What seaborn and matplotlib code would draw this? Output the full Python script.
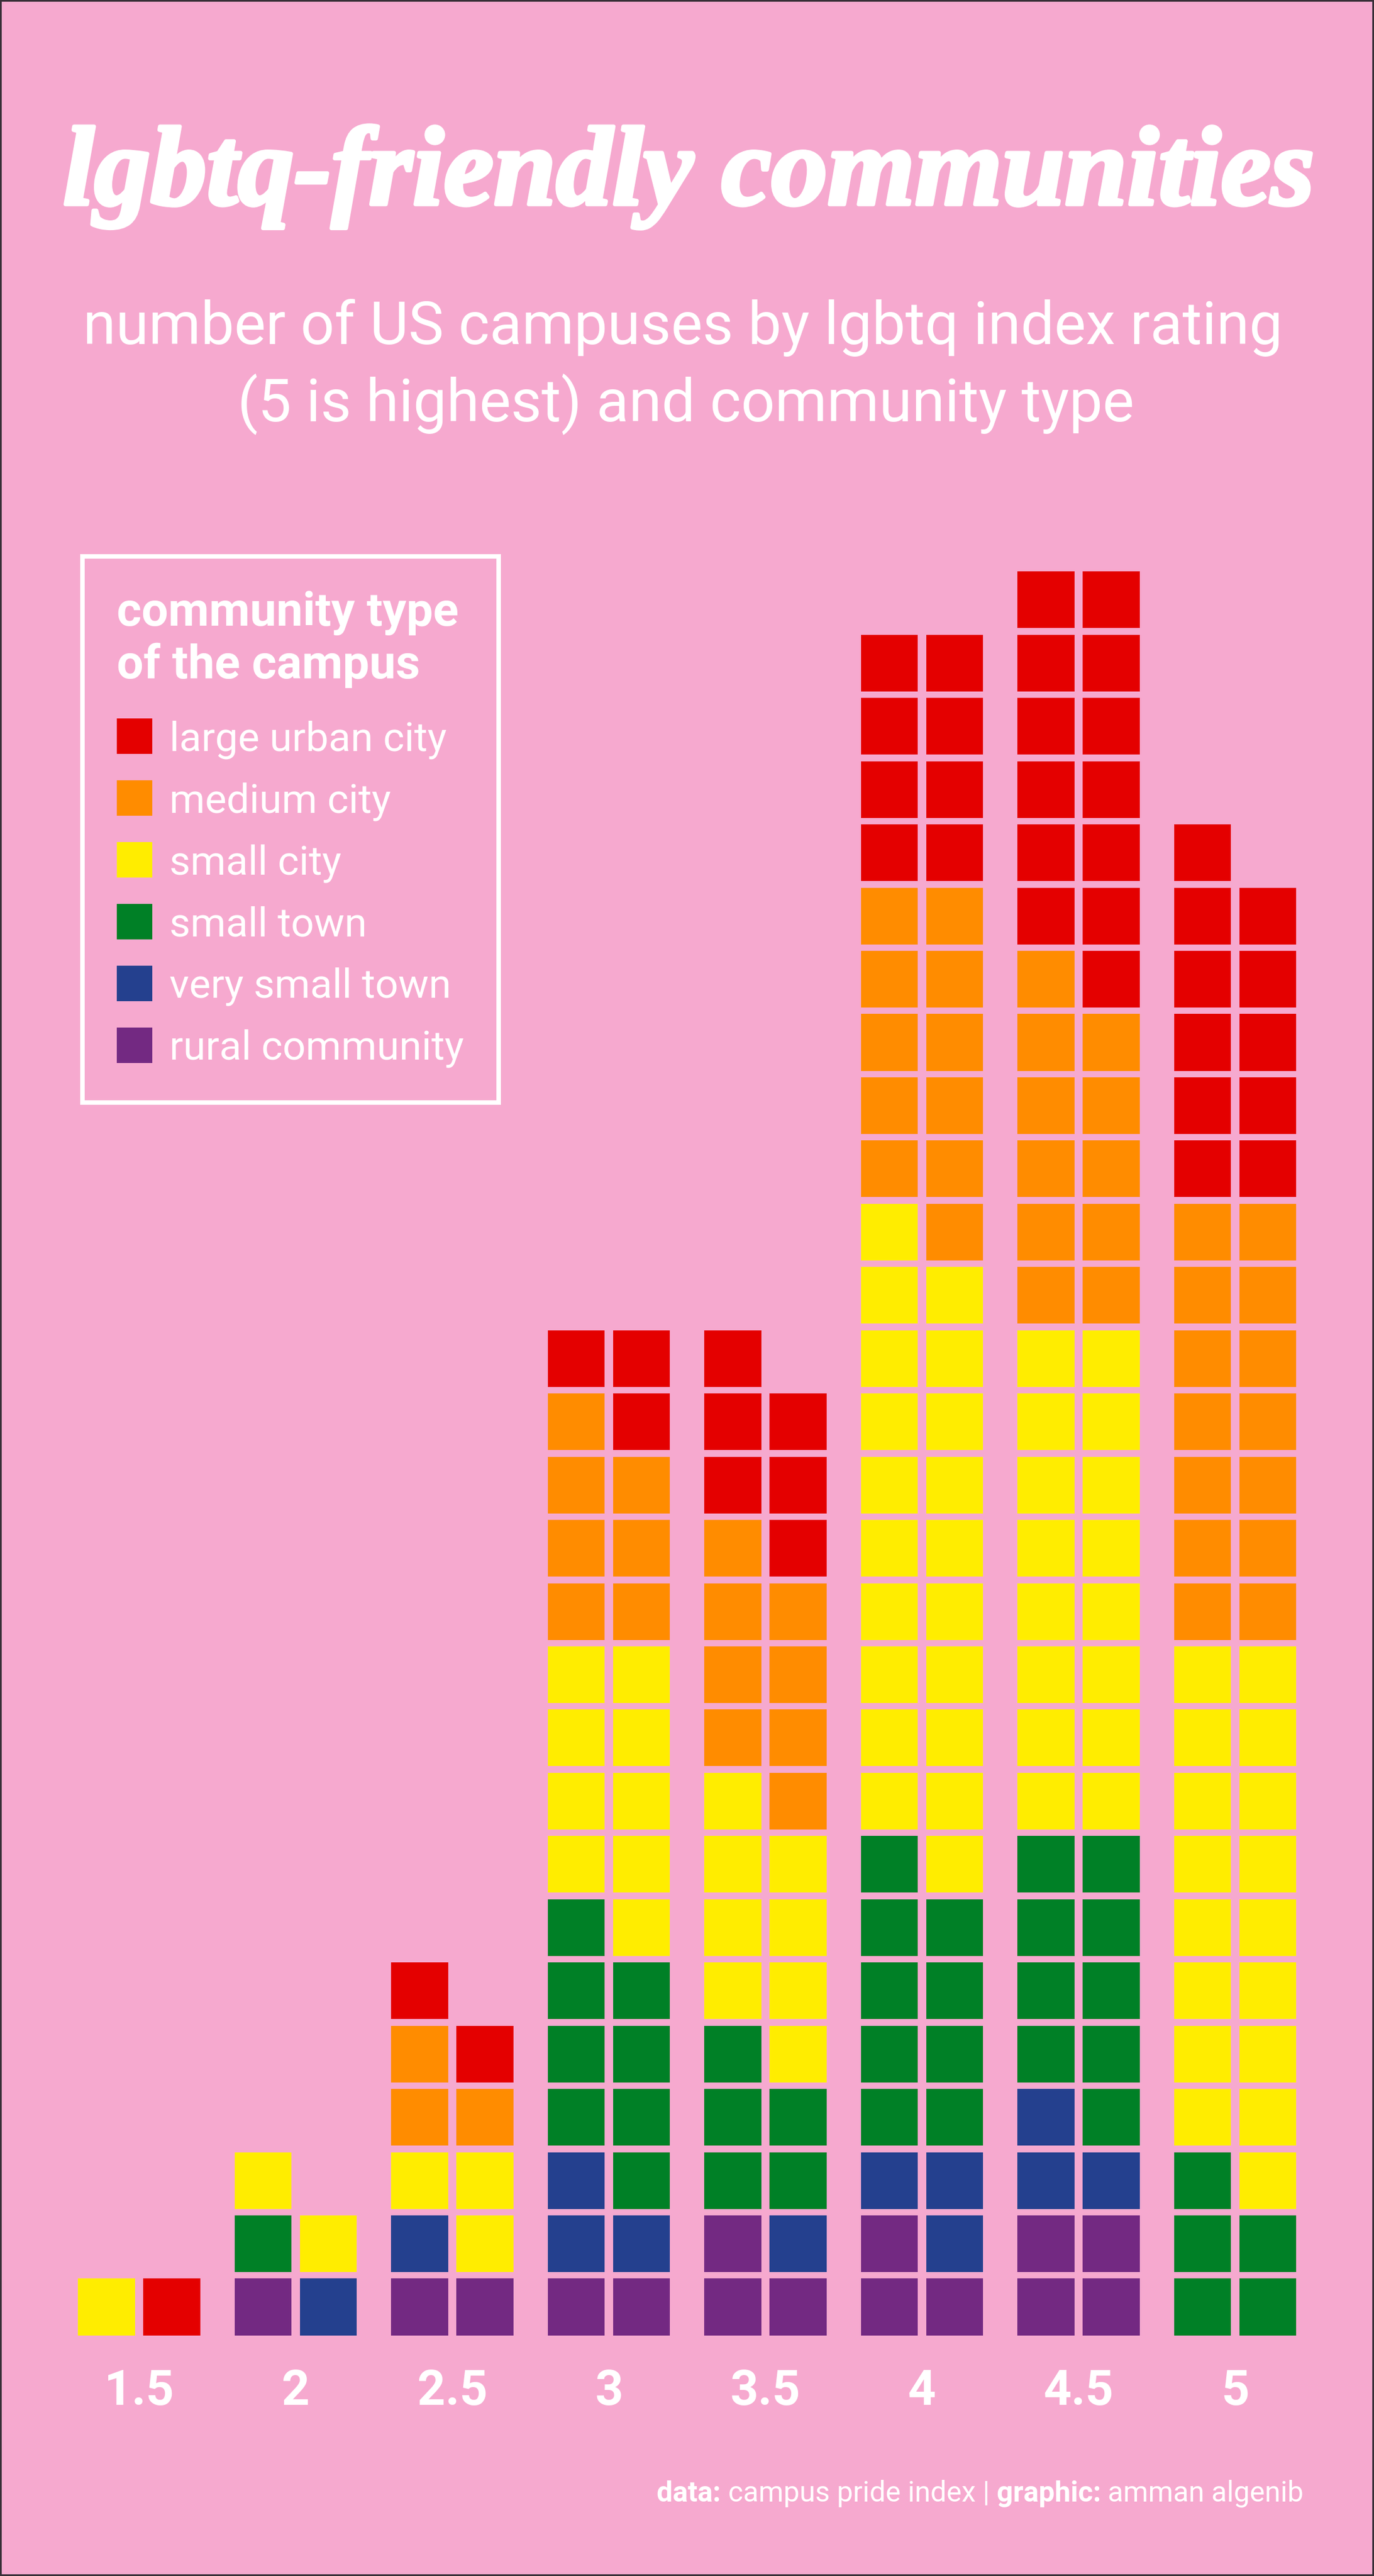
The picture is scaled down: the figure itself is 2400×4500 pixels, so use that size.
import matplotlib
matplotlib.use("Agg")
import matplotlib.pyplot as plt
import matplotlib.patheffects as pe
import pandas as pd
import seaborn as sns

# values: campuses per rating and community type
ratings = ["1.5", "2", "2.5", "3", "3.5", "4", "4.5", "5"]
rural_community = [0, 1, 2, 2, 3, 3, 4, 0]
very_small_town = [0, 1, 1, 3, 1, 3, 3, 0]
small_town = [0, 1, 0, 8, 5, 9, 9, 5]
small_city = [1, 2, 3, 9, 8, 20, 16, 17]
medium_city = [0, 0, 3, 7, 8, 11, 11, 14]
large_urban_city = [1, 0, 2, 3, 6, 8, 13, 11]

stack_order = ["rural community", "very small town", "small town",
               "small city", "medium city", "large urban city"]
stack_values = [rural_community, very_small_town, small_town,
                small_city, medium_city, large_urban_city]
colors = ["#732982", "#24408E", "#008026", "#FFED00", "#FF8C00", "#E40000"]

BG = "#F6A9CF"
W, H = 2400, 4500
ROW_PX = 110.45

# one row per campus, filled left to right and bottom to top
rows = []
for i, rating in enumerate(ratings):
    n = 0
    for name, values in zip(stack_order, stack_values):
        for _ in range(values[i]):
            rows.append({"x": i + (n % 2 - 0.5) * 114 / 273.5,
                         "row": n // 2, "type": name})
            n += 1
tiles = pd.DataFrame(rows)

sns.set_theme(style="white")
plt.rcParams["font.family"] = ["Roboto", "DejaVu Sans"]

fig = plt.figure(figsize=(W / 300, H / 300), dpi=300, facecolor=BG)
fig.patch.set_edgecolor("#3a3038")
fig.patch.set_linewidth(1.0)

# axes run from the left to the right edge, bottom sits just under the first row
base_px = 4079
ax = fig.add_axes([0, (H - base_px) / H, 1, base_px / H])
ax.patch.set_alpha(0)

legend_order = stack_order[::-1]
sns.scatterplot(data=tiles, x="x", y="row", hue="type", hue_order=legend_order,
                palette=dict(zip(stack_order, colors)), marker="s", s=565,
                linewidth=0, ax=ax, clip_on=False)

ax.set_xlim(-243 / 273.5, (W - 243) / 273.5)
ax.set_ylim(-49 / ROW_PX, (base_px - 49) / ROW_PX)
ax.set_xticks(range(len(ratings)))
ax.set_xticklabels(ratings, fontsize=20.5, fontweight="bold", color="white")
ax.tick_params(axis="x", length=0, pad=14)
ax.set_yticks([])
ax.set_xlabel("")
ax.set_ylabel("")
sns.despine(ax=ax, left=True, bottom=True)

handles, labels = ax.get_legend_handles_labels()
for h in handles:
    h.set_markersize(14.9)
leg = ax.legend(handles, labels, title="community type\nof the campus",
                loc="upper left", bbox_to_anchor=(144 / W, 1 - 972 / H),
                bbox_transform=fig.transFigure, borderaxespad=0,
                fontsize=17, labelcolor="white", frameon=True,
                facecolor="none", edgecolor="white", fancybox=False, borderpad=0.85,
                labelspacing=0.572, handlelength=0.88, handletextpad=0.42,
                alignment="left",
                title_fontproperties={"family": "Roboto", "weight": "bold", "size": 19.8})
leg.get_title().set_color("white")
leg.get_frame().set_alpha(None)
leg.get_frame().set_linewidth(1.9)
leg._legend_box.sep = 13.5

title = fig.text(1203 / W, 1 - 357 / H, "lgbtq-friendly communities", ha="center", va="baseline",
                 color="white", fontsize=47.1, fontweight="bold", fontstyle="italic",
                 family="Liberation Serif")
title.set_path_effects([pe.withStroke(linewidth=1.6, foreground="white")])
fig.text(1193 / W, 1 - 601 / H, "number of US campuses by lgbtq index rating", ha="center",
         va="baseline", color="white", fontsize=24.95)
fig.text(1198 / W, 1 - 736 / H, "(5 is highest) and community type", ha="center",
         va="baseline", color="white", fontsize=24.95)

# footer runs, placed from the right edge leftwards on one baseline
renderer = fig.canvas.get_renderer()
right = 2277
for txt, weight in [("amman algenib", "normal"), ("graphic: ", "bold"),
                    ("campus pride index | ", "normal"), ("data: ", "bold")]:
    t = fig.text(right / W, 1 - 4370 / H, txt, ha="right", va="baseline",
                 color="white", fontsize=11.95, fontweight=weight)
    right -= t.get_window_extent(renderer).width

fig.savefig("out.png", dpi=300, facecolor=BG, edgecolor=fig.get_edgecolor())
